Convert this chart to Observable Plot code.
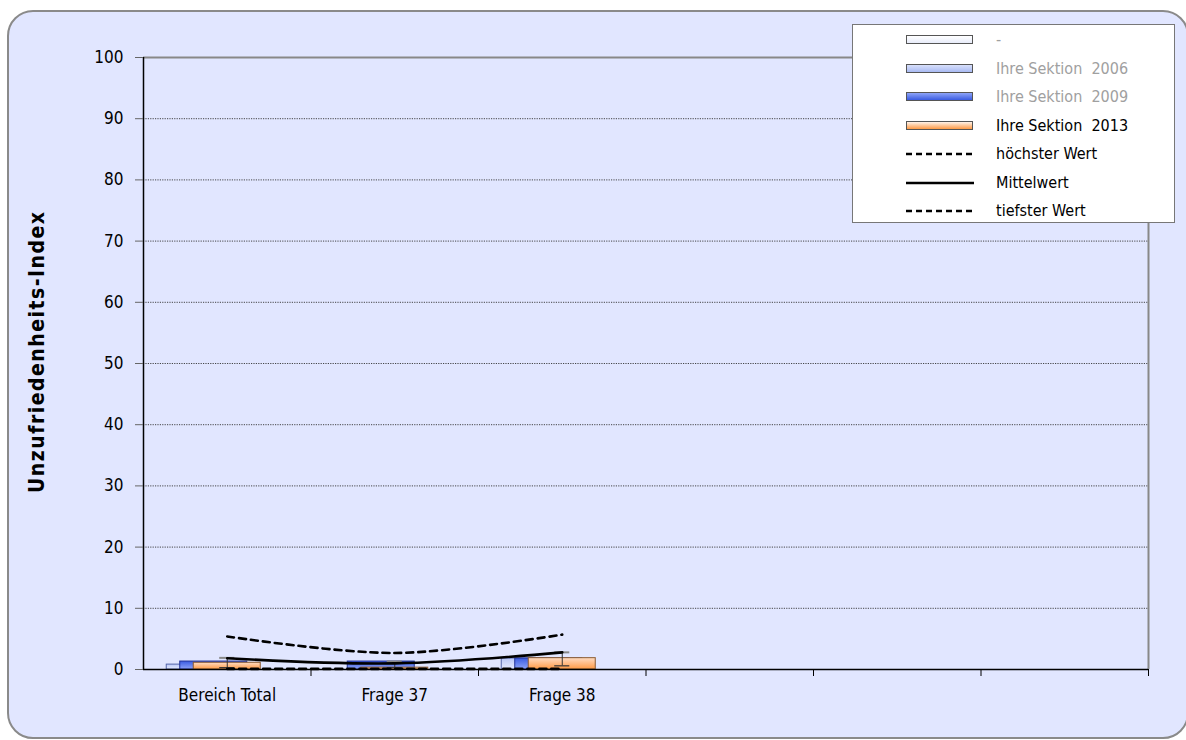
<!DOCTYPE html>
<html><head><meta charset="utf-8">
<script src="https://cdn.jsdelivr.net/npm/d3@7"></script>
<script src="https://cdn.jsdelivr.net/npm/@observablehq/plot@0.6"></script>
<style>
html,body{margin:0;padding:0;background:#fff;width:1186px;height:740px;overflow:hidden;}
body{font-family:"Liberation Sans Narrow","Arial Narrow","DejaVu Sans Condensed","Liberation Sans",sans-serif;}
#frame{position:absolute;left:7px;top:10px;width:1182px;height:729px;box-sizing:border-box;border:2px solid #8a8a8a;border-radius:26px;background:#E1E6FF;}
#chart{position:absolute;left:0;top:0;}
#legend{position:absolute;left:852px;top:24px;width:323px;height:199px;box-sizing:border-box;background:#fff;border:1px solid #777;}
.li{position:absolute;left:0;height:20px;width:320px;font-size:16px;line-height:20px;}
.li .sw{position:absolute;left:53px;top:5px;width:67px;height:9px;box-sizing:border-box;border:1px solid #555;}
.li svg{position:absolute;left:53px;top:8px;}
.li .tx{position:absolute;left:143px;top:0;white-space:pre;}
</style></head>
<body>
<div id="frame"></div>
<div id="chart"></div>
<div id="legend"></div>
<script>
// ---- data ----
const categories = ["Bereich Total", "Frage 37", "Frage 38", "", "", ""];
const seriesNames = ["-", "Ihre Sektion  2006", "Ihre Sektion  2009", "Ihre Sektion  2013"];
const valsDash = [0, 0, 0];
const vals2006 = [0.8, 0, 1.8];
const vals2009 = [1.3, 1.3, 1.8];
const vals2013 = [1.1, 0.3, 1.85];
const errLow = [0.3, 0.3, 0.6];
const errHigh = [1.9, 1.3, 2.8];
const maxVals = [5.4, 2.7, 5.7];
const meanVals = [1.85, 1.0, 2.8];
const minVals = [0.1, 0.1, 0.1];
const yTicks = [0, 10, 20, 30, 40, 50, 60, 70, 80, 90, 100];
const legendLabels = ["-", "Ihre Sektion  2006", "Ihre Sektion  2009", "Ihre Sektion  2013", "höchster Wert", "Mittelwert", "tiefster Wert"];

// ---- build ----
const seriesVals = [valsDash, vals2006, vals2009, vals2013];
const barW = 0.4, step = 0.0806, capW = 0.045;
const bars = [];
seriesVals.forEach((vals, k) => vals.forEach((v, i) => {
  const c = i + 0.5 - (3 - k) * step;
  bars.push({k, i, v, x1: c - barW / 2, x2: c + barW / 2});
}));
const pts = categories.slice(0, 3).map((c, i) => ({
  x: i + 0.5, cl: i + 0.5 - capW, cr: i + 0.5 + capW,
  mean: meanVals[i], max: maxVals[i], min: minVals[i], lo: errLow[i], hi: errHigh[i]
}));
const fills = ["url(#g0)", "url(#g1)", "url(#g2)", "url(#g3)"];
const strokes = ["#6670a0", "#5566aa", "#223399", "#8a5a30"];
const font = getComputedStyle(document.body).fontFamily;

const defs = () => {
  const d = document.createElementNS("http://www.w3.org/2000/svg", "defs");
  d.innerHTML = `
  <linearGradient id="g0" x1="0" y1="0" x2="0" y2="1"><stop offset="0" stop-color="#ffffff"/><stop offset="1" stop-color="#e3e8fa"/></linearGradient>
  <linearGradient id="g1" x1="0" y1="0" x2="0" y2="1"><stop offset="0" stop-color="#b8c6f6"/><stop offset="1" stop-color="#e6ebff"/></linearGradient>
  <linearGradient id="g2" x1="0" y1="0" x2="0" y2="1"><stop offset="0" stop-color="#3a5be0"/><stop offset="1" stop-color="#8ea4f8"/></linearGradient>
  <linearGradient id="g3" x1="0" y1="0" x2="0" y2="1"><stop offset="0" stop-color="#ffdcc4"/><stop offset="1" stop-color="#ff9a45"/></linearGradient>`;
  return d;
};

const chart = Plot.plot({
  width: 1186, height: 740,
  marginLeft: 143, marginRight: 38, marginTop: 57, marginBottom: 71,
  style: {background: "transparent", fontFamily: font, fontSize: "16px", color: "#000"},
  x: {type: "linear", domain: [0, 6], axis: null},
  y: {type: "linear", domain: [0, 100], axis: null},
  marks: [
    defs,
    Plot.ruleY(yTicks.filter(t => t > 0 && t < 100), {stroke: "#333", strokeWidth: 0.9, strokeDasharray: "1.2,1.2"}),
    Plot.ruleY([100], {stroke: "#888", strokeWidth: 2}),
    Plot.ruleX([6], {stroke: "#888", strokeWidth: 2}),
    ...[0, 1, 2, 3].map(k => Plot.rectY(bars.filter(b => b.k === k && b.v > 0), {
      x1: "x1", x2: "x2", y1: 0, y2: "v", fill: fills[k], stroke: strokes[k], strokeWidth: 1
    })),
    Plot.ruleX(pts, {x: "x", y1: "lo", y2: "hi", stroke: "#333", strokeWidth: 1}),
    Plot.ruleY(pts, {y: "hi", x1: "cl", x2: "cr", stroke: "#888", strokeWidth: 2}),
    Plot.ruleY(pts, {y: "lo", x1: "cl", x2: "cr", stroke: "#333", strokeWidth: 1.2}),
    Plot.line(pts, {x: "x", y: "max", stroke: "#000", strokeWidth: 2.6, strokeDasharray: "7,5", curve: "catmull-rom"}),
    Plot.line(pts, {x: "x", y: "mean", stroke: "#000", strokeWidth: 2.6, curve: "catmull-rom"}),
    Plot.line(pts, {x: "x", y: "min", stroke: "#000", strokeWidth: 2.6, strokeDasharray: "7,5", curve: "catmull-rom"}),
    Plot.ruleY([0], {stroke: "#000", strokeWidth: 1.5}),
    Plot.ruleX([0], {stroke: "#000", strokeWidth: 1.5}),
    Plot.axisY({ticks: yTicks, tickSize: 8, tickPadding: 12, fontSize: 17, stroke: "#666", label: null}),
    Plot.axisX({ticks: [1, 2, 3, 4, 5, 6], tickSize: 7, tickFormat: () => "", stroke: "#000", label: null}),
    Plot.axisX({ticks: [0.5, 1.5, 2.5], tickSize: 0, tickPadding: 19, fontSize: 17,
      tickFormat: t => categories[Math.floor(t)], label: null}),
    Plot.text(["Unzufriedenheits-Index"], {frameAnchor: "left", textAnchor: "middle", dx: -106, dy: -11, rotate: -90,
      fontSize: 21, fontWeight: "bold", text: d => d,
      render: (i, s, v, d, ctx, next) => {
        const g = next(i, s, v, d, ctx);
        g.querySelectorAll("text").forEach(t => t.setAttribute("textLength", 281));
        return g;
      }})
  ]
});
document.getElementById("chart").append(chart);

// ---- legend ----
const lg = document.getElementById("legend");
const swFill = ["linear-gradient(#ffffff,#e8ecfa)", "linear-gradient(#d8e0fb,#a9baf3)", "linear-gradient(#8ea4f8,#3a5be0)", "linear-gradient(#fff3ea,#ff9a45)"];
legendLabels.forEach((lab, j) => {
  const row = document.createElement("div");
  row.className = "li";
  row.style.top = (5 + j * 28.5) + "px";
  let sym;
  if (j < 4) {
    sym = `<div class="sw" style="background:${swFill[j]}"></div>`;
  } else {
    sym = `<svg width="70" height="4"><line x1="0" x2="68" y1="2" y2="2" stroke="#000" stroke-width="2.6" ${j === 5 ? "" : 'stroke-dasharray="6,4"'}/></svg>`;
  }
  row.innerHTML = sym + `<span class="tx" style="color:${j < 3 ? "#a0a0a0" : "#000"}">${lab}</span>`;
  lg.append(row);
});
</script>
</body></html>
